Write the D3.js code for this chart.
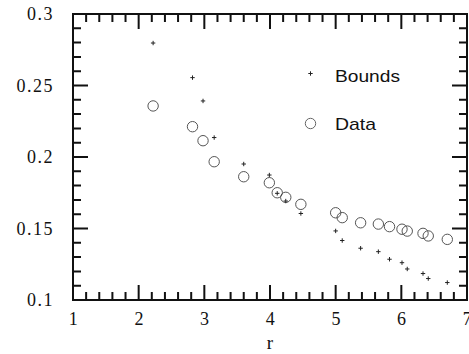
<!DOCTYPE html>
<html><head><meta charset="utf-8">
<script src="https://cdn.jsdelivr.net/npm/d3@7/dist/d3.min.js"></script>
<style>
body{margin:0;background:#fff}svg{display:block}
</style>
</head><body>
<script>
const rValues    = [2.22, 2.82, 2.98, 3.15, 3.60, 3.99, 4.11, 4.24, 4.47, 5.00, 5.10, 5.38, 5.65, 5.82, 6.01, 6.09, 6.33, 6.41, 6.70];
const dataValues = [0.2357, 0.2212, 0.2114, 0.1967, 0.1862, 0.1820, 0.1750, 0.1718, 0.1669, 0.1610, 0.1576, 0.1540, 0.1531, 0.1513, 0.1495, 0.1482, 0.1466, 0.1448, 0.1424];
const boundValues= [0.2797, 0.2555, 0.2392, 0.2136, 0.1951, 0.1874, 0.1746, 0.1692, 0.1605, 0.1483, 0.1416, 0.1362, 0.1338, 0.1285, 0.1261, 0.1217, 0.1185, 0.1150, 0.1122];
const xTickLabels = ["1","2","3","4","5","6","7"];
const yTickLabels = ["0.1","0.15","0.2","0.25","0.3"];
const legendLabels = ["Bounds","Data"];

const W = 469, H = 354;
const L = 73, R = 467, T = 14, B = 300;
const SERIF = "Liberation Serif, Times New Roman, Times, serif";
const SANS = "Liberation Sans, Arial, Helvetica, sans-serif";
const svg = d3.select("body").append("svg").attr("width", W).attr("height", H);
const x = d3.scaleLinear().domain([1, 7]).range([L, R]);
const y = d3.scaleLinear().domain([0.1, 0.3]).range([B, T]);

const majX = d3.range(0, 7).map(i => 1 + i);
const minX = d3.range(0, 31).map(i => 1 + i * 0.2);
const majY = d3.range(0, 5).map(i => 0.1 + i * 0.05);
const minY = d3.range(0, 21).map(i => 0.1 + i * 0.01);

// inward ticks on all four sides, built from the scales as one path per side
function tickPath(vals, lenFn, make) {
  return vals.map((v, i) => make(v, lenFn(i))).join("");
}
const lenFn = i => (i % 5 === 0 ? 15 : 8);
const dBottom = tickPath(minX, lenFn, (v, l) => `M${x(v)},${B}V${B - l}`);
const dTop    = tickPath(minX, lenFn, (v, l) => `M${x(v)},${T}V${T + l}`);
const dLeft   = tickPath(minY, lenFn, (v, l) => `M${L},${y(v)}H${L + l}`);
const dRight  = tickPath(minY, lenFn, (v, l) => `M${R},${y(v)}H${R - l}`);
svg.append("path").attr("d", dBottom + dTop + dLeft + dRight)
  .attr("fill", "none").attr("stroke", "#111").attr("stroke-width", 2);
svg.append("rect").attr("x", L).attr("y", T).attr("width", R - L).attr("height", B - T)
  .attr("fill", "none").attr("stroke", "#111").attr("stroke-width", 2);

// tick labels
majX.forEach((v, i) => {
  svg.append("text").attr("x", x(v) + 1).attr("y", 325).attr("text-anchor", "middle")
    .attr("font-family", SERIF).attr("font-size", 18).attr("fill", "#111").attr("letter-spacing", 1.5)
    .text(xTickLabels[i]);
});
majY.forEach((v, i) => {
  svg.append("text").attr("x", 54).attr("y", y(v) + 6).attr("text-anchor", "end")
    .attr("font-family", SERIF).attr("font-size", 18).attr("fill", "#111").attr("letter-spacing", 1.5)
    .text(yTickLabels[i]);
});
svg.append("text").attr("x", (L + R) / 2).attr("y", 349).attr("text-anchor", "middle")
  .attr("font-family", SERIF).attr("font-size", 19).attr("fill", "#111").text("r");

// data circles
svg.append("g").selectAll("circle").data(rValues).join("circle")
  .attr("cx", (d) => x(d)).attr("cy", (d, i) => y(dataValues[i])).attr("r", 5.2)
  .attr("fill", "none").attr("stroke", "#555").attr("stroke-width", 1);

// bounds plus markers
const pg = svg.append("g");
function plus(cx, cy, s) {
  pg.append("path").attr("d", `M${cx - s},${cy}H${cx + s}M${cx},${cy - s}V${cy + s}`)
    .attr("stroke", "#222").attr("stroke-width", 1).attr("fill", "none");
}
rValues.forEach((r, i) => plus(x(r), y(boundValues[i]), 2.2));

// legend
plus(310.5, 73.5, 2.2);
svg.append("circle").attr("cx", 310.5).attr("cy", 123.5).attr("r", 5.2)
  .attr("fill", "none").attr("stroke", "#666").attr("stroke-width", 1);
svg.append("text").attr("x", 335).attr("y", 81.5).attr("font-family", SANS).attr("font-size", 17).attr("fill", "#111")
  .attr("textLength", 65).attr("lengthAdjust", "spacingAndGlyphs").text(legendLabels[0]);
svg.append("text").attr("x", 335).attr("y", 130).attr("font-family", SANS).attr("font-size", 17).attr("fill", "#111")
  .attr("textLength", 41).attr("lengthAdjust", "spacingAndGlyphs").text(legendLabels[1]);
</script>
</body></html>
